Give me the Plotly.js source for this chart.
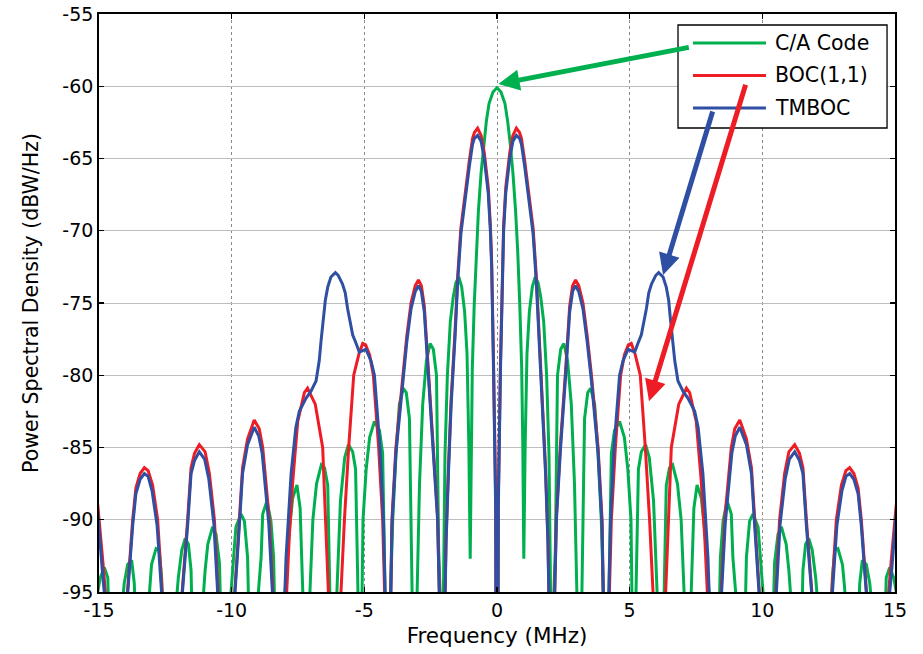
<!DOCTYPE html>
<html>
<head>
<meta charset="utf-8">
<script src="https://cdn.plot.ly/plotly-3.0.1.min.js"></script>
<style>html,body{margin:0;padding:0;background:#fff;}#chart{width:923px;height:654px;}</style>
</head>
<body>
<div id="chart"></div>
<script>
// ---- Data (frequency in MHz, PSD in dBW/Hz) ----
const caFreq = [
 -15.35,-15.05,-14.95,-14.8,-14.67,-14.64,
 -14.32,-14.05,-13.92,-13.77,-13.67,-13.64,
 -13.3,-13.1,-13.02,-12.85,-12.73,-12.64,-12.6,
 -12.28,-12.01,-11.88,-11.75,-11.63,-11.53,-11.5,
 -11.25,-11.0,-10.9,-10.72,-10.59,-10.46,-10.42,
 -10.23,-9.92,-9.84,-9.65,-9.52,-9.4,-9.36,
 -9.21,-8.89,-8.83,-8.67,-8.52,-8.42,-8.38,
 -8.18,-7.83,-7.7,-7.54,-7.42,-7.32,
 -7.16,-6.94,-6.8,-6.62,-6.5,-6.38,-6.3,
 -6.14,-5.9,-5.74,-5.6,-5.44,-5.33,-5.24,
 -5.12,-5.05,-4.93,-4.8,-4.62,-4.43,-4.31,-4.22,
 -4.09,-3.93,-3.8,-3.68,-3.53,-3.42,-3.3,-3.2,
 -3.07,-2.92,-2.8,-2.66,-2.52,-2.4,-2.28,-2.2,
 -2.05,-1.96,-1.87,-1.76,-1.65,-1.55,-1.44,-1.33,-1.22,-1.13,-1.06,
 -1.01,-0.97,-0.93,-0.86,-0.78,-0.7,-0.6,-0.5,-0.4,-0.3,-0.15,
 0,
 0.15,0.3,0.4,0.5,0.6,0.7,0.78,0.86,0.93,0.97,1.01,
 1.06,1.13,1.22,1.33,1.44,1.55,1.65,1.76,1.87,1.96,2.05,
 2.2,2.28,2.4,2.52,2.66,2.8,2.92,3.07,
 3.2,3.3,3.42,3.53,3.68,3.8,3.93,4.09,
 4.22,4.31,4.43,4.62,4.8,4.93,5.05,5.12,
 5.24,5.33,5.44,5.6,5.74,5.9,6.14,
 6.3,6.38,6.5,6.62,6.8,6.94,7.16,
 7.32,7.42,7.54,7.7,7.83,8.18,
 8.38,8.42,8.52,8.67,8.83,8.89,9.21,
 9.36,9.4,9.52,9.65,9.84,9.92,10.23,
 10.42,10.46,10.59,10.72,10.9,11.0,11.25,
 11.5,11.53,11.63,11.75,11.88,12.01,12.28,
 12.6,12.64,12.73,12.85,13.02,13.1,13.3,
 13.64,13.67,13.77,13.92,14.05,14.32,
 14.64,14.67,14.8,14.95,15.05,15.35
];
const caPsd = [
 -100,-95.0,-94.0,-93.3,-94.0,-96,
 -100,-94.4,-93.1,-92.8,-94.4,-96,
 -100,-94.7,-93.1,-92.0,-92.1,-94.0,-96,
 -100,-94.0,-92.1,-91.3,-91.7,-93.5,-96,
 -100,-93.5,-91.7,-90.5,-91.0,-93.0,-96,
 -100,-92.6,-90.5,-89.6,-90.1,-92.6,-96,
 -100,-92.6,-89.6,-88.7,-90.1,-92.6,-96,
 -100,-90.8,-88.5,-87.6,-89.2,-95.0,
 -100,-90.0,-87.5,-86.2,-86.4,-87.6,-95.0,
 -100,-88.7,-85.7,-84.8,-85.3,-86.5,-95.0,
 -100,-90.0,-86.5,-84.3,-83.2,-83.8,-85.4,-95.0,
 -100,-90.0,-85.2,-82.0,-80.9,-81.2,-83.0,-95.0,
 -100,-87.5,-82.0,-79.0,-77.8,-78.2,-80.0,-92.0,
 -100,-85.5,-80.0,-76.3,-74.6,-73.6,-73.2,-73.9,-75.6,-78.5,-85.0,
 -92.7,-84.5,-79.5,-75.2,-71.4,-68.6,-66.0,-64.0,-62.4,-61.2,-60.4,
 -60.1,
 -60.4,-61.2,-62.4,-64.0,-66.0,-68.6,-71.4,-75.2,-79.5,-84.5,-92.7,
 -85.0,-78.5,-75.6,-73.9,-73.2,-73.6,-74.6,-76.3,-80.0,-85.5,-100,
 -92.0,-80.0,-78.2,-77.8,-79.0,-82.0,-87.5,-100,
 -95.0,-83.0,-81.2,-80.9,-82.0,-85.2,-90.0,-100,
 -95.0,-85.4,-83.8,-83.2,-84.3,-86.5,-90.0,-100,
 -95.0,-86.5,-85.3,-84.8,-85.7,-88.7,-100,
 -95.0,-87.6,-86.4,-86.2,-87.5,-90.0,-100,
 -95.0,-89.2,-87.6,-88.5,-90.8,-100,
 -96,-92.6,-90.1,-88.7,-89.6,-92.6,-100,
 -96,-92.6,-90.1,-89.6,-90.5,-92.6,-100,
 -96,-93.0,-91.0,-90.5,-91.7,-93.5,-100,
 -96,-93.5,-91.7,-91.3,-92.1,-94.0,-100,
 -96,-94.0,-92.1,-92.0,-93.1,-94.7,-100,
 -96,-94.4,-92.8,-93.1,-94.4,-100,
 -96,-94.0,-93.3,-94.0,-95.0,-100
];

const bocFreq = [
 -15.2,-15.05,-14.85,
 -14.32,-13.73,-13.61,-13.45,-13.29,-13.15,-12.98,-12.79,
 -12.28,-11.66,-11.53,-11.4,-11.22,-11.0,-10.84,-10.65,
 -10.23,-9.71,-9.59,-9.4,-9.15,-8.96,-8.83,-8.58,
 -8.18,-7.83,-7.7,-7.51,-7.26,-7.14,-6.85,-6.57,-6.4,
 -6.14,-5.75,-5.59,-5.4,-5.2,-5.06,-4.95,-4.8,-4.66,-4.46,-4.31,
 -4.09,-3.96,-3.81,-3.56,-3.4,-3.24,-3.08,-2.96,-2.85,-2.74,-2.58,-2.39,-2.24,
 -2.05,-1.92,-1.83,-1.73,-1.58,-1.48,-1.36,-1.21,-1.04,-0.92,-0.85,-0.73,-0.6,-0.48,-0.33,-0.25,-0.2,-0.13,-0.05,
 0,
 0.05,0.13,0.2,0.25,0.33,0.48,0.6,0.73,0.85,0.92,1.04,1.21,1.36,1.48,1.58,1.73,1.83,1.92,2.05,
 2.24,2.39,2.58,2.74,2.85,2.96,3.08,3.24,3.4,3.56,3.81,3.96,4.09,
 4.31,4.46,4.66,4.8,4.95,5.06,5.2,5.4,5.59,5.75,6.14,
 6.4,6.57,6.85,7.14,7.26,7.51,7.7,7.83,8.18,
 8.58,8.83,8.96,9.15,9.4,9.59,9.71,10.23,
 10.65,10.84,11.0,11.22,11.4,11.53,11.66,12.28,
 12.79,12.98,13.15,13.29,13.45,13.61,13.73,14.32,
 14.85,15.05,15.2
];
const bocPsd = [
 -87.6,-88.9,-93.0,
 -105,-90.0,-87.8,-86.8,-86.4,-86.6,-87.6,-90.0,
 -105,-90.0,-86.4,-85.4,-84.8,-85.3,-86.8,-90.0,
 -105,-90.0,-86.4,-84.4,-83.1,-83.7,-85.0,-90.0,
 -105,-91.2,-87.4,-83.2,-81.2,-80.9,-82.0,-85.0,-93.0,
 -105,-90.0,-85.0,-80.0,-78.5,-77.8,-77.9,-78.6,-80.0,-85.0,-90.0,
 -105,-90.0,-85.0,-80.0,-77.3,-75.0,-73.8,-73.4,-73.8,-75.2,-79.8,-84.8,-89.7,
 -105,-91.2,-86.4,-81.7,-76.9,-73.1,-69.8,-67.4,-65.1,-63.6,-63.2,-62.9,-63.4,-64.6,-67.0,-69.6,-72.2,-79.2,-88.5,
 -130,
 -88.5,-79.2,-72.2,-69.6,-67.0,-64.6,-63.4,-62.9,-63.2,-63.6,-65.1,-67.4,-69.8,-73.1,-76.9,-81.7,-86.4,-91.2,-105,
 -89.7,-84.8,-79.8,-75.2,-73.8,-73.4,-73.8,-75.0,-77.3,-80.0,-85.0,-90.0,-105,
 -90.0,-85.0,-80.0,-78.6,-77.9,-77.8,-78.5,-80.0,-85.0,-90.0,-105,
 -93.0,-85.0,-82.0,-80.9,-81.2,-83.2,-87.4,-91.2,-105,
 -90.0,-85.0,-83.7,-83.1,-84.4,-86.4,-90.0,-105,
 -90.0,-86.8,-85.3,-84.8,-85.4,-86.4,-90.0,-105,
 -90.0,-87.6,-86.6,-86.4,-86.8,-87.8,-90.0,-105,
 -93.0,-88.9,-87.6
];

const tmbocFreq = [
 -15.2,-15.05,-14.88,
 -14.32,-13.73,-13.61,-13.45,-13.29,-13.15,-13.0,-12.81,
 -12.28,-11.66,-11.53,-11.4,-11.22,-11.02,-10.86,-10.67,
 -10.23,-9.71,-9.59,-9.4,-9.15,-8.98,-8.85,-8.6,
 -8.18,-7.95,-7.76,-7.58,-7.45,-7.2,-7.01,-6.82,-6.7,-6.63,-6.53,-6.47,-6.38,-6.26,-6.09,-5.98,-5.82,-5.72,-5.63,-5.44,-5.31,-5.19,-5.06,-4.94,-4.75,-4.62,-4.41,-4.28,
 -4.09,-3.96,-3.81,-3.56,-3.4,-3.24,-3.08,-2.96,-2.85,-2.74,-2.58,-2.39,-2.24,
 -2.05,-1.92,-1.83,-1.73,-1.58,-1.48,-1.36,-1.21,-1.04,-0.92,-0.85,-0.73,-0.6,-0.48,-0.33,-0.25,-0.2,-0.13,-0.05,
 0,
 0.05,0.13,0.2,0.25,0.33,0.48,0.6,0.73,0.85,0.92,1.04,1.21,1.36,1.48,1.58,1.73,1.83,1.92,2.05,
 2.24,2.39,2.58,2.74,2.85,2.96,3.08,3.24,3.4,3.56,3.81,3.96,4.09,
 4.28,4.41,4.62,4.75,4.94,5.06,5.19,5.31,5.44,5.63,5.72,5.82,5.98,6.09,6.26,6.38,6.47,6.53,6.63,6.7,6.82,7.01,7.2,7.45,7.58,7.76,7.95,8.18,
 8.6,8.85,8.98,9.15,9.4,9.59,9.71,10.23,
 10.67,10.86,11.02,11.22,11.4,11.53,11.66,12.28,
 12.81,13.0,13.15,13.29,13.45,13.61,13.73,14.32,
 14.88,15.05,15.2
];
const tmbocPsd = [
 -88.2,-89.4,-93.4,
 -105,-90.4,-88.2,-87.2,-86.8,-87.0,-88.0,-90.4,
 -105,-90.4,-86.8,-85.9,-85.3,-85.8,-87.2,-90.3,
 -105,-90.4,-86.8,-84.8,-83.6,-84.2,-85.4,-90.3,
 -105,-92.6,-86.8,-83.6,-82.5,-81.6,-81.1,-80.4,-79.0,-77.6,-76.0,-74.8,-73.9,-73.2,-72.9,-73.1,-73.7,-74.3,-75.4,-77.2,-77.8,-78.4,-78.3,-78.2,-79.0,-80.0,-85.0,-90.0,
 -105,-90.4,-85.4,-80.4,-77.7,-75.4,-74.2,-73.8,-74.2,-75.6,-80.2,-85.2,-90.0,
 -105,-91.6,-86.8,-82.1,-77.3,-73.5,-70.2,-67.8,-65.5,-64.0,-63.6,-63.4,-63.8,-65.0,-67.4,-70.0,-72.6,-79.7,-89.2,
 -130,
 -89.2,-79.7,-72.6,-70.0,-67.4,-65.0,-63.8,-63.4,-63.6,-64.0,-65.5,-67.8,-70.2,-73.5,-77.3,-82.1,-86.8,-91.6,-105,
 -90.0,-85.2,-80.2,-75.6,-74.2,-73.8,-74.2,-75.4,-77.7,-80.4,-85.4,-90.4,-105,
 -90.0,-85.0,-80.0,-79.0,-78.2,-78.3,-78.4,-77.8,-77.2,-75.4,-74.3,-73.7,-73.1,-72.9,-73.2,-73.9,-74.8,-76.0,-77.6,-79.0,-80.4,-81.1,-81.6,-82.5,-83.6,-86.8,-92.6,-105,
 -90.3,-85.4,-84.2,-83.6,-84.8,-86.8,-90.4,-105,
 -90.3,-87.2,-85.8,-85.3,-85.9,-86.8,-90.4,-105,
 -90.4,-88.0,-87.0,-86.8,-87.2,-88.2,-90.4,-105,
 -93.4,-89.4,-88.2
];

const seriesNames = ['C/A Code', 'BOC(1,1)', 'TMBOC'];
const freqTicks = [-15, -10, -5, 0, 5, 10, 15];
const freqTickLabels = ['-15', '-10', '-5', '0', '5', '10', '15'];
const psdTicks = [-95, -90, -85, -80, -75, -70, -65, -60, -55];
const psdTickLabels = ['-95', '-90', '-85', '-80', '-75', '-70', '-65', '-60', '-55'];

// ---- Styling ----
const GREEN = '#00b04f', RED = '#ee1c25', BLUE = '#2f4fa2';
const COLORS = [GREEN, RED, BLUE];
const FONT = 'DejaVu Sans, Liberation Sans, Arial, sans-serif';

const traces = [
  {x: caFreq, y: caPsd, name: seriesNames[0], type: 'scatter', mode: 'lines', line: {color: GREEN, width: 3}},
  {x: bocFreq, y: bocPsd, name: seriesNames[1], type: 'scatter', mode: 'lines', line: {color: RED, width: 3}},
  {x: tmbocFreq, y: tmbocPsd, name: seriesNames[2], type: 'scatter', mode: 'lines', line: {color: BLUE, width: 3}}
];

const axisCommon = {
  showline: true, linecolor: '#000', linewidth: 1.8, mirror: 'allticks',
  ticks: 'inside', ticklen: 5, tickcolor: '#000', tickwidth: 1.2,
  showgrid: true, gridwidth: 1,
  zeroline: false, tickmode: 'array',
  tickfont: {family: FONT, size: 19, color: '#000'}
};

// Legend box (paper coordinates of the plot area)
const legBox = {x0: 0.7274, x1: 0.9900, y0: 0.8028, y1: 0.9810};
const legLineX = [0.7462, 0.8379];
const legRowY = [0.9498, 0.8936, 0.8374];
const legTextX = 0.8467;

const shapes = [
  {type: 'rect', xref: 'paper', yref: 'paper', x0: legBox.x0, x1: legBox.x1, y0: legBox.y0, y1: legBox.y1,
   fillcolor: '#fff', line: {color: '#000', width: 1.3}, layer: 'above'}
];
const annotations = [];
seriesNames.forEach((name, i) => {
  shapes.push({type: 'line', xref: 'paper', yref: 'paper', x0: legLineX[0], x1: legLineX[1],
    y0: legRowY[i], y1: legRowY[i], line: {color: COLORS[i], width: 3}, layer: 'above'});
  annotations.push({xref: 'paper', yref: 'paper', x: legTextX, y: legRowY[i], xanchor: 'left', yanchor: 'middle',
    text: name, showarrow: false, font: {family: FONT, size: 20.5, color: '#000'}});
});
// Arrows pointing from the legend to the curves
annotations.push(
  {x: 0.05, y: -59.85, xref: 'x', yref: 'y', ax: 192, ay: -37, text: '', showarrow: true,
   arrowhead: 2, arrowsize: 0.85, arrowwidth: 5, arrowcolor: GREEN, standoff: 0},
  {x: 5.73, y: -81.8, xref: 'x', yref: 'y', ax: 97, ay: -318, text: '', showarrow: true,
   arrowhead: 2, arrowsize: 0.85, arrowwidth: 5, arrowcolor: RED, standoff: 0},
  {x: 6.26, y: -73.06, xref: 'x', yref: 'y', ax: 50, ay: -165, text: '', showarrow: true,
   arrowhead: 2, arrowsize: 0.85, arrowwidth: 5, arrowcolor: BLUE, standoff: 0}
);

const layout = {
  width: 923, height: 654,
  margin: {l: 99, r: 28, t: 14, b: 62},
  paper_bgcolor: '#fff', plot_bgcolor: '#fff',
  font: {family: FONT, color: '#000'},
  showlegend: false,
  xaxis: Object.assign({}, axisCommon, {
    range: [-15, 15], tickvals: freqTicks, ticktext: freqTickLabels,
    gridcolor: '#8a8a8a', griddash: 'dot',
    title: {text: 'Frequency (MHz)', font: {family: FONT, size: 21.5, color: '#000'}, standoff: 8}
  }),
  yaxis: Object.assign({}, axisCommon, {
    range: [-95, -55], tickvals: psdTicks, ticktext: psdTickLabels,
    gridcolor: '#bdbdbd', griddash: 'solid',
    title: {text: 'Power Spectral Density (dBW/Hz)', font: {family: FONT, size: 20.5, color: '#000'}, standoff: 18}
  }),
  shapes: shapes,
  annotations: annotations
};

Plotly.newPlot('chart', traces, layout, {displayModeBar: false, staticPlot: true});
</script>
</body>
</html>
